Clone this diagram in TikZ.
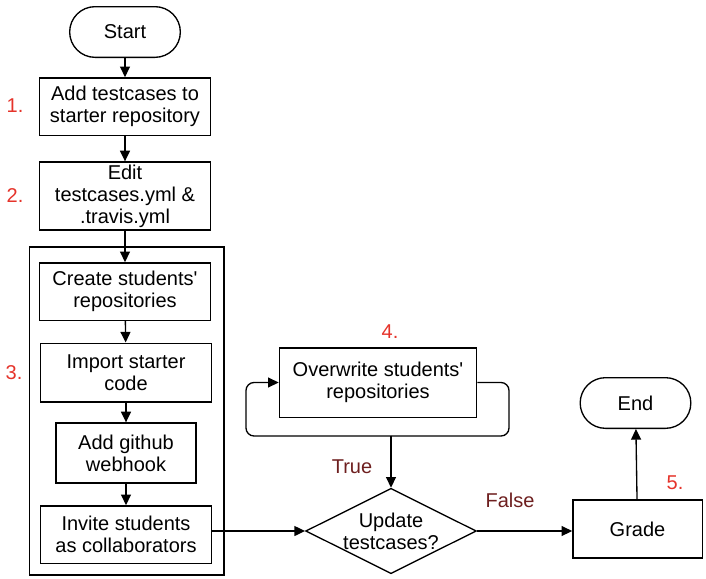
\documentclass[tikz,border=0pt]{standalone}
\usepackage{fontspec}
\setmainfont{Liberation Sans}
\usetikzlibrary{shapes.geometric,arrows.meta}
\definecolor{stepred}{HTML}{E5332A}
\definecolor{branchred}{HTML}{6E1F1F}
\begin{document}
\begin{tikzpicture}[x=0.75pt, y=-0.75pt,
  font=\fontsize{15}{16.5}\selectfont,
  every path/.style={line width=1pt},
  term/.style={draw, rectangle, rounded corners=19pt, minimum width=83pt, minimum height=38pt},
  proc/.style={draw, rectangle, align=center, inner sep=1pt, minimum width=128pt},
  dec/.style={draw, diamond, aspect=2, align=center, inner sep=0pt, minimum width=128pt, minimum height=64pt},
  arr/.style={-{Triangle[length=8pt, width=7.5pt]}},
  stepno/.style={text=stepred},
  branch/.style={text=branchred}]
\useasboundingbox (0,0) rectangle (706,578);
% main column
\node[term] (start) at (125,32) {Start};
\node[proc, minimum height=43pt] (seed) at (125,106.5) {Add testcases to\\starter repository};
\node[proc, minimum height=51pt] (cfg) at (125,196) {Edit\\testcases.yml \&\\.travis.yml};
% step 3 group
\node[draw, minimum width=146pt, minimum height=246pt] (grp) at (126.5,411) {};
\node[proc, minimum height=43pt] (mkrepo) at (125,291.5) {Create students\textquotesingle\\repositories};
\node[proc, minimum height=44pt] (import) at (126,372.5) {Import starter\\code};
\node[proc, minimum width=105pt, minimum height=45pt] (hook) at (126,453) {Add github\\webhook};
\node[proc, minimum height=43pt] (invite) at (126,534.5) {Invite students\\as collaborators};
% decision and right side
\node[dec] (upd) at (391,531) {Update\\testcases?};
\node[proc, minimum width=148pt, minimum height=52pt] (over) at (378,382.5) {Overwrite students\textquotesingle\\repositories};
\node[proc, minimum width=97pt, minimum height=43.5pt] (grade) at (637.5,529) {Grade};
\node[term] (end) at (635.5,403) {End};
% step numbers
\node[stepno] (n1) at (15,106) {1.};
\node[stepno] (n2) at (15,196) {2.};
\node[stepno] (n3) at (14,373) {3.};
\node[stepno] (n4) at (390,332) {4.};
\node[stepno] (n5) at (675,483) {5.};
\node[branch] (lt) at (352,467) {True};
\node[branch] (lf) at (510,500) {False};
% connectors
\draw[arr] (start) -- (seed);
\draw[arr] (seed) -- (cfg);
\draw[arr] (cfg) -- (mkrepo);
\draw[arr] (mkrepo) -- (import);
\draw[arr] (import) -- (hook);
\draw[arr] (hook) -- (invite);
\draw[arr] (invite.east |- upd.west) -- (upd.west);
\draw[arr] (upd.east) -- (upd.east -| grade.west);
\draw[arr] (grade) -- (end);
% overwrite loop
\coordinate (jn) at (391,436);
\coordinate (jr) at (509,436);
\coordinate (jl) at (246,436);
\draw[rounded corners=6pt] (over.east) -| (jr) -- (jn);
\draw[arr, rounded corners=6pt] (jn) -- (jl) |- (over.west);
\draw[arr] (jn) -- (upd.north);
\end{tikzpicture}
\end{document}
